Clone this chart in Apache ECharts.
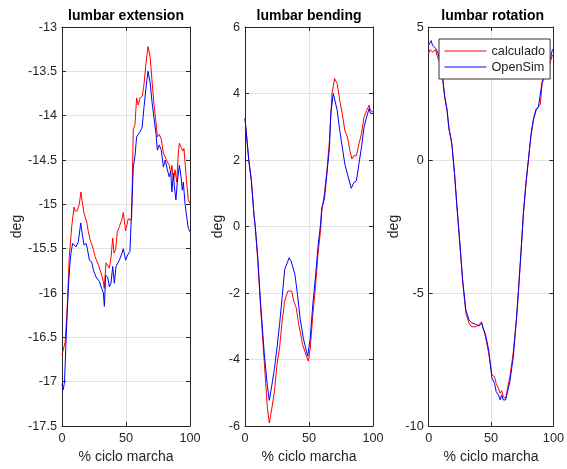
<!DOCTYPE html>
<html>
<head>
<meta charset="utf-8">
<script src="https://cdn.jsdelivr.net/npm/echarts@6/dist/echarts.min.js"></script>
<style>
html,body{margin:0;padding:0;background:#fff;}
#chart{width:567px;height:469px;}
</style>
</head>
<body>
<div id="chart"></div>
<script>
// ---------- DATA ----------
const panelTitles = ['lumbar extension', 'lumbar bending', 'lumbar rotation'];
const seriesNames = ['calculado', 'OpenSim'];
const xLabel = '% ciclo marcha';
const yLabel = 'deg';

// lumbar extension
const extRedX = [0,1.5,2.5,4.2,5.7,7.6,9.4,10.4,12,13.5,14.8,16.1,17.2,19.3,20.6,21.9,23.2,24.5,25.8,27.1,28.4,29.7,31,32.3,33,34.4,35.7,37,38.3,39.6,40.6,41.9,43.2,44.8,46.6,47.9,49.7,51.8,53.5,54.4,55.7,57,58.3,59.6,60.9,62.8,64.1,65.6,67.2,68.8,70.3,71.9,73.4,74.5,76,77.6,79.2,80.7,82.3,83.8,84.9,85.9,87,88.3,89.6,90.9,91.7,93,94.3,95.3,96.1,97.4,98.7,100];
const extRedY = [-16.7,-16.72,-16.55,-16.12,-15.59,-15.25,-15.03,-15.08,-15.07,-15.0,-14.86,-15.0,-15.1,-15.2,-15.31,-15.4,-15.45,-15.51,-15.59,-15.6,-15.68,-15.74,-15.8,-15.87,-15.95,-15.66,-15.64,-15.72,-15.6,-15.38,-15.55,-15.51,-15.31,-15.25,-15.18,-15.09,-15.3,-15.16,-15.18,-15.15,-14.16,-14.1,-13.8,-13.88,-13.8,-13.78,-13.64,-13.41,-13.22,-13.33,-13.6,-13.88,-14.07,-14.24,-14.21,-14.27,-14.42,-14.4,-14.52,-14.56,-14.65,-14.56,-14.73,-14.61,-14.75,-14.42,-14.31,-14.31,-14.4,-14.37,-14.52,-14.76,-14.95,-14.99];
const extBlueX = [0,1,2,3,4,5,6,7,8.3,9.4,10.9,12.8,14.6,16.1,17.2,18.8,19.8,21.4,23.2,24.5,26.6,27.9,29.2,31,32.3,33.1,34.1,35.7,37,38.3,39.6,40.9,42.2,43.2,44.8,46.9,47.9,49.7,51.3,53.1,54.4,55.7,57,58.3,59.6,60.9,62.5,64.1,65.6,67.2,68.8,70.3,71.9,73.4,74.5,76,77.6,79.2,80.7,82.3,83.8,84.9,85.9,87,87.8,89,90.1,91.7,93,94,94.8,96.1,97.4,98.7,100];
const extBlueY = [-17.03,-17.09,-17.0,-16.6,-16.25,-15.93,-15.7,-15.55,-15.44,-15.42,-15.48,-15.42,-15.21,-15.36,-15.46,-15.44,-15.5,-15.63,-15.65,-15.74,-15.82,-15.8,-15.87,-15.95,-16.0,-16.15,-15.8,-15.82,-15.93,-15.89,-15.7,-15.89,-15.7,-15.68,-15.63,-15.55,-15.5,-15.63,-15.57,-15.53,-15.06,-14.58,-14.46,-14.24,-14.25,-14.18,-14.14,-13.9,-13.69,-13.5,-13.62,-13.84,-14.03,-14.2,-14.39,-14.33,-14.39,-14.58,-14.5,-14.61,-14.69,-14.63,-14.86,-14.65,-14.8,-14.95,-14.75,-14.56,-14.69,-14.84,-14.75,-14.99,-15.14,-15.27,-15.31];

// lumbar bending
const bendRedX = [0,3,5,7,8,10,12,15,17.5,19,21,23,25,27,29,31,33.5,35,36.5,38,40,42,45,48,49.5,51,53,55,57,59,60,62,64,66,68,70,71,72,74,76,78,80,82,83.5,85,87,89,91,93,95,97,98,100];
const bendRedY = [3.25,1.98,1.37,0.36,0.0,-1.03,-2.34,-4.05,-5.46,-5.91,-5.46,-4.95,-4.15,-3.65,-2.85,-2.24,-1.94,-1.99,-1.94,-2.24,-2.44,-2.95,-3.55,-3.9,-4.05,-3.65,-2.65,-1.84,-0.83,-0.13,0.47,0.97,1.68,2.59,4.0,4.45,4.5,4.3,3.8,3.39,2.89,2.69,2.28,2.03,2.13,2.13,2.48,2.79,3.29,3.49,3.65,3.49,3.44];
const bendBlueX = [0,3,5,7,8,10,12,15,17.5,19,21,23,25,27,29,31,33,34.5,36,37.5,39,41,43,45.5,48,49,51,53,55,57,59,60,62,64,66,67,69,70,72,74,76,78,80,83,85,87,89,91,93,95,97,98,100];
const bendBlueY = [3.25,1.98,1.37,0.36,0.0,-0.95,-2.2,-3.8,-4.8,-5.23,-4.77,-4.27,-3.65,-2.95,-2.14,-1.29,-1.09,-0.94,-1.04,-1.04,-1.44,-2.04,-2.75,-3.35,-3.75,-3.9,-3.35,-2.34,-1.54,-0.63,0.07,0.57,0.82,1.58,2.38,3.39,4.0,3.95,3.5,2.89,2.38,1.88,1.58,1.15,1.32,1.37,1.88,2.38,2.99,3.29,3.55,3.4,3.4];

// lumbar rotation
const rotX = [0,1,2,3,4,5.5,7,9,11,12.8,14.7,16.2,18.1,18.8,20.7,22.5,24.6,27.2,29.8,32.4,34.5,37.6,40.2,42.4,43.4,45.5,48.1,50.7,52.8,54.1,55.9,57.3,58.5,59.8,61.7,63.2,65.1,67.7,70.3,72,74,76,78,80,82,84,86,88,89.5,91,93,95,96.6,98,99.2,100];
const rotRedY = [4.01,4.15,4.2,4.06,4.1,4.14,3.88,3.63,3.13,2.37,1.87,1.17,0.73,0.48,-0.53,-1.67,-2.93,-4.55,-5.76,-6.14,-6.27,-6.27,-6.2,-6.08,-6.27,-6.64,-7.27,-8.08,-8.15,-8.4,-8.58,-8.77,-8.67,-8.9,-8.96,-8.9,-8.15,-7.27,-6.02,-4.9,-3.5,-2.0,-0.9,0.0,0.9,1.5,1.85,2.0,2.1,2.9,3.13,3.22,3.5,3.75,3.95,3.9];
const rotBlueY = [4.32,4.4,4.49,4.32,4.25,4.2,4.07,3.76,3.2,2.4,1.9,1.2,0.75,0.5,-0.5,-1.65,-2.9,-4.5,-5.64,-6.02,-6.12,-6.17,-6.24,-6.14,-6.3,-6.55,-7.14,-8.2,-8.4,-8.71,-8.83,-9.02,-8.83,-9.02,-9.02,-9.02,-8.33,-7.45,-6.02,-4.9,-3.45,-1.95,-0.85,0.05,0.95,1.55,1.9,2.0,2.05,2.95,3.15,3.25,3.7,3.9,4.15,4.14];

const yRanges = [
  {min: -17.5, max: -13, interval: 0.5},
  {min: -6, max: 6, interval: 2},
  {min: -10, max: 5, interval: 5}
];
const xTicks = {min: 0, max: 100, interval: 50};

// ---------- CHART ----------
const FONT = "'Liberation Sans', Arial, Helvetica, sans-serif";
const AX = '#262626';
const GRIDC = '#e3e3e3';
const gridLefts = [62, 245, 428.7];
const gridW = 128, gridTop = 27, gridH = 399;
const yNameGaps = [38, 19.5, 27];

function pairs(xs, ys) { return xs.map((x, i) => [x, ys[i]]); }

const grids = [], xAxes = [], yAxes = [], titles = [], series = [];
const data = [
  [pairs(extRedX, extRedY), pairs(extBlueX, extBlueY)],
  [pairs(bendRedX, bendRedY), pairs(bendBlueX, bendBlueY)],
  [pairs(rotX, rotRedY), pairs(rotX, rotBlueY)]
];

for (let p = 0; p < 3; p++) {
  grids.push({left: gridLefts[p], top: gridTop, width: gridW, height: gridH, show: false, containLabel: false});
  titles.push({
    text: panelTitles[p], left: gridLefts[p] + gridW / 2, top: 9, textAlign: 'center', padding: 0,
    textStyle: {fontFamily: FONT, fontSize: 14, fontWeight: 'bold', color: '#000'}
  });
  xAxes.push({
    type: 'value', gridIndex: p, position: 'bottom', min: xTicks.min, max: xTicks.max, interval: xTicks.interval,
    name: xLabel, nameLocation: 'middle', nameGap: 23,
    nameTextStyle: {fontFamily: FONT, fontSize: 14, color: AX},
    axisLine: {show: true, onZero: false, lineStyle: {color: AX, width: 1}},
    axisTick: {show: true, inside: true, length: 4, lineStyle: {color: AX}},
    axisLabel: {fontFamily: FONT, fontSize: 12.7, color: AX, margin: 6},
    splitLine: {show: true, lineStyle: {color: GRIDC, width: 1}}
  });
  xAxes.push({
    type: 'value', gridIndex: p, position: 'top', min: xTicks.min, max: xTicks.max, interval: xTicks.interval,
    axisLine: {show: true, onZero: false, lineStyle: {color: AX, width: 1}},
    axisTick: {show: true, inside: true, length: 4, lineStyle: {color: AX}},
    axisLabel: {show: false}, splitLine: {show: false}
  });
  yAxes.push({
    type: 'value', gridIndex: p, position: 'left', min: yRanges[p].min, max: yRanges[p].max, interval: yRanges[p].interval,
    name: yLabel, nameLocation: 'middle', nameGap: yNameGaps[p], nameRotate: 90,
    nameTextStyle: {fontFamily: FONT, fontSize: 14, color: AX},
    axisLine: {show: true, onZero: false, lineStyle: {color: AX, width: 1}},
    axisTick: {show: true, inside: true, length: 4, lineStyle: {color: AX}},
    axisLabel: {fontFamily: FONT, fontSize: 12.7, color: AX, margin: 5},
    splitLine: {show: true, lineStyle: {color: GRIDC, width: 1}}
  });
  yAxes.push({
    type: 'value', gridIndex: p, position: 'right', min: yRanges[p].min, max: yRanges[p].max, interval: yRanges[p].interval,
    axisLine: {show: true, onZero: false, lineStyle: {color: AX, width: 1}},
    axisTick: {show: true, inside: true, length: 4, lineStyle: {color: AX}},
    axisLabel: {show: false}, splitLine: {show: false}
  });
  const colors = ['#ff0000', '#0000ff'];
  for (let s = 0; s < 2; s++) {
    series.push({
      type: 'line', name: seriesNames[s], xAxisIndex: p * 2, yAxisIndex: p * 2,
      data: data[p][s], showSymbol: false, symbol: 'none', animation: false,
      lineStyle: {color: colors[s], width: 1}, itemStyle: {color: colors[s]},
      z: 3 + s
    });
  }
}

const chart = echarts.init(document.getElementById('chart'), null, {renderer: 'canvas'});
chart.setOption({
  animation: false,
  backgroundColor: '#fff',
  title: titles,
  grid: grids,
  xAxis: xAxes,
  yAxis: yAxes,
  legend: {
    data: seriesNames, orient: 'vertical', left: 439, top: 39,
    itemWidth: 42, itemHeight: 14, itemGap: 2, padding: [5, 5, 5, 5],
    backgroundColor: '#fff', borderColor: '#333', borderWidth: 1,
    itemStyle: {opacity: 0},
    lineStyle: {width: 1},
    textStyle: {fontFamily: FONT, fontSize: 12.7, color: AX, lineHeight: 14},
    z: 10
  },
  series: series
});
</script>
</body>
</html>
